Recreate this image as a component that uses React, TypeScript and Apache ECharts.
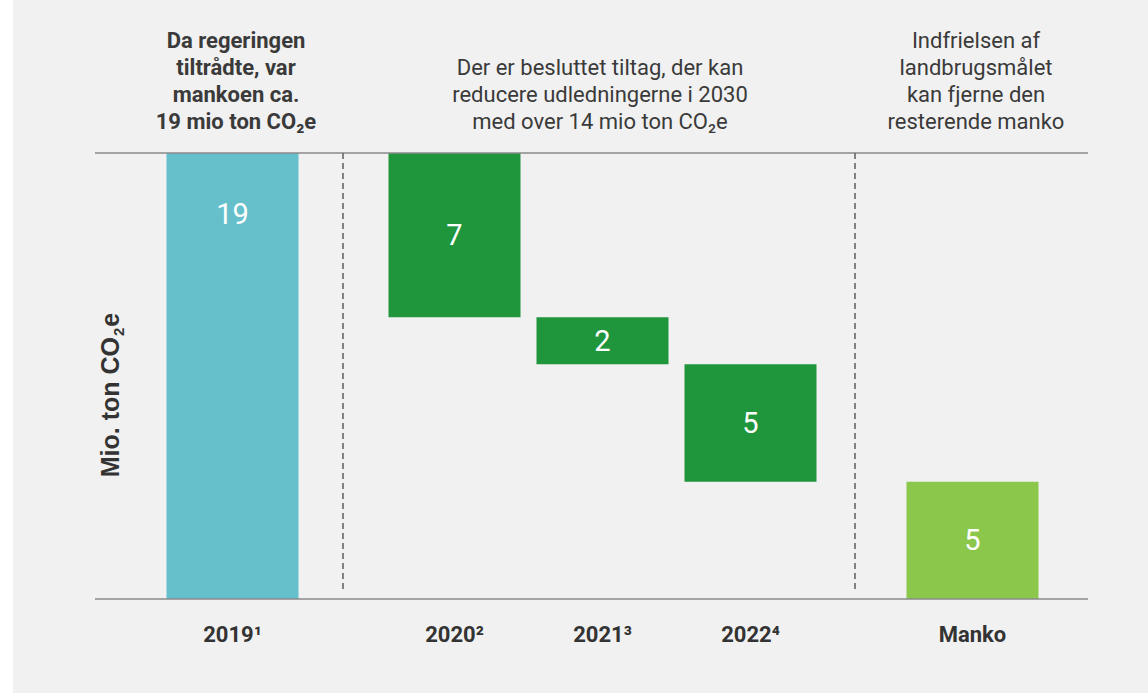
import React, { useEffect, useRef } from "react";
import * as echarts from "echarts";

// ---- data ----
const categories = ["2019¹", "2020²", "2021³", "2022⁴", "Manko"];
const values = [19, 7, 2, 5, 5];
const kinds = ["start", "reduction", "reduction", "reduction", "remaining"];
const barColors = ["#66c0cb", "#1f953c", "#1f953c", "#1f953c", "#8bc74b"];
const yAxisTitle = "Mio. ton CO₂e";
const notes = [
  "Da regeringen\ntiltrådte, var\nmankoen ca.\n19 mio ton CO₂e",
  "Der er besluttet tiltag, der kan\nreducere udledningerne i 2030\nmed over 14 mio ton CO₂e",
  "Indfrielsen af\nlandbrugsmålet\nkan fjerne den\nresterende manko",
];

// ---- layout ----
const SLOTS = 27;
const slotIndex = [3, 9, 13, 17, 23];
const GRID_LEFT = 103;
const SLOT_W = 37;
const GRID_TOP = 153;
const GRID_BOTTOM_Y = 599;

export default function App() {
  const ref = useRef<HTMLDivElement>(null);
  useEffect(() => {
    if (!ref.current) return;
    const chart = echarts.init(ref.current, null, { renderer: "svg" });

    // waterfall bases
    let running = 0;
    const bases: number[] = [];
    values.forEach((v, i) => {
      if (kinds[i] === "start") {
        running = v;
        bases.push(0);
      } else if (kinds[i] === "reduction") {
        running -= v;
        bases.push(running);
      } else {
        bases.push(0);
      }
    });

    const slotKeys = Array.from({ length: SLOTS }, (_, i) => "s" + i);
    const baseData: any[] = slotKeys.map(() => "-");
    const valData: any[] = slotKeys.map(() => "-");
    const labelBySlot: Record<number, string> = {};
    slotIndex.forEach((s, i) => {
      labelBySlot[s] = categories[i];
      baseData[s] = bases[i];
      valData[s] = {
        value: values[i],
        itemStyle: { color: barColors[i] },
        label:
          i === 0
            ? { position: "insideTop", distance: 46 }
            : { position: "inside" },
      };
    });

    const noteX = [236, 600, 976];
    const noteTop = [27, 54, 27];
    const noteBold = [true, false, false];

    chart.setOption({
      animation: false,
      backgroundColor: "#f1f1f1",
      textStyle: { fontFamily: "Roboto" },
      grid: {
        left: GRID_LEFT,
        width: SLOT_W * SLOTS,
        top: GRID_TOP,
        bottom: 693 - GRID_BOTTOM_Y,
      },
      xAxis: {
        type: "category",
        data: slotKeys,
        axisLine: { show: false },
        axisTick: { show: false },
        axisLabel: {
          interval: 0,
          margin: 24,
          fontSize: 22,
          fontWeight: "bold",
          color: "#333333",
          fontFamily: "Roboto",
          formatter: (_v: string, idx: number) => labelBySlot[idx] || "",
        },
      },
      yAxis: {
        type: "value",
        min: 0,
        max: 19,
        axisLabel: { show: false },
        axisLine: { show: false },
        axisTick: { show: false },
        splitLine: { show: false },
      },
      series: [
        {
          type: "bar",
          stack: "wf",
          barWidth: 132,
          data: baseData,
          itemStyle: { color: "transparent" },
          silent: true,
        },
        {
          type: "bar",
          stack: "wf",
          barWidth: 132,
          data: valData,
          label: {
            show: true,
            color: "#ffffff",
            fontSize: 29,
            fontFamily: "Roboto",
          },
        },
      ],
      graphic: [
        { type: "rect", shape: { x: 0, y: 0, width: 13, height: 693 }, style: { fill: "#ffffff" }, z: 100 },
        { type: "line", shape: { x1: 95, y1: GRID_TOP, x2: 1088, y2: GRID_TOP }, style: { stroke: "#8a8a8a", lineWidth: 1.5 }, z: 10 },
        { type: "line", shape: { x1: 95, y1: GRID_BOTTOM_Y, x2: 1088, y2: GRID_BOTTOM_Y }, style: { stroke: "#8a8a8a", lineWidth: 1.5 }, z: 10 },
        { type: "line", shape: { x1: 343, y1: GRID_TOP, x2: 343, y2: 590 }, style: { stroke: "#666666", lineWidth: 1.6, lineDash: [6, 4] }, z: 10 },
        { type: "line", shape: { x1: 855, y1: GRID_TOP, x2: 855, y2: 590 }, style: { stroke: "#666666", lineWidth: 1.6, lineDash: [6, 4] }, z: 10 },
        ...notes.map((t, i) => ({
          type: "text",
          x: noteX[i],
          y: noteTop[i],
          style: {
            text: t,
            fill: "#3a3a3a",
            fontSize: 22,
            fontWeight: noteBold[i] ? "bold" : "normal",
            fontFamily: "Roboto",
            lineHeight: 27,
            align: "center",
            verticalAlign: "top",
          },
        })),
        {
          type: "text",
          x: 110,
          y: 395,
          rotation: Math.PI / 2,
          style: {
            text: "{a|" + yAxisTitle.replace("₂e", "") + "}{b|2}{a|e}",
            align: "center",
            verticalAlign: "middle",
            rich: {
              a: { fontSize: 25, fontWeight: "bold", fontFamily: "Liberation Sans", fill: "#333333", lineHeight: 32, verticalAlign: "middle" },
              b: { fontSize: 15, fontWeight: "bold", fontFamily: "Liberation Sans", fill: "#333333", lineHeight: 32, verticalAlign: "bottom", padding: [13, 1, 0, 1] },
            },
          },
        },
      ],
    });
    return () => chart.dispose();
  }, []);
  return (
    <div
      ref={ref}
      style={{ position: "absolute", left: 0, top: 0, width: 1148, height: 693 }}
    />
  );
}
